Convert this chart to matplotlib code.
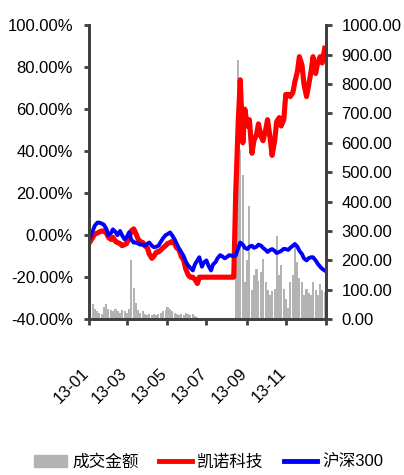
import matplotlib
matplotlib.use('Agg')
import matplotlib.pyplot as plt
import matplotlib.transforms as mtransforms
from matplotlib.patches import Patch
from matplotlib.lines import Line2D
import pandas as pd

plt.rcParams['font.family'] = ['Liberation Sans', 'Noto Sans CJK SC']

# trading days sampled on Mondays and Thursdays through 2013
days = pd.date_range('2013-01-01', '2013-12-31', freq='D')
dates = days[days.weekday.isin([0, 3])]

# 凯诺科技 cumulative return (%)
kaino = [-3, -1, 0.5, 1, 1.5, 2, 2, 1, -1, -2,
         -1, -3, -3.5, -4, -5, -4.5, -4, -1, 2, 3,
         1, -2, -3, -3.5, -5, -6, -9, -11, -10, -8,
         -8, -7, -6, -5, -4, -3.5, -3, -4, -6, -7,
         -10, -12, -16, -19, -20, -20, -21, -23,
         -20, -20, -20, -20, -20, -20, -20, -20,
         -20, -20, -20, -20, -20, -20, -20, -20,
         20, 55, 74, 44, 60, 52, 55, 39, 45, 48,
         53, 47, 45, 50, 55, 46, 38, 45, 54, 56,
         52, 55, 67, 67, 66, 68, 73, 78, 85, 81,
         72, 66, 71, 78, 85, 77, 82, 85, 82, 89]

# 沪深300 cumulative return (%)
hs300 = [-1, 2, 4.5, 6, 6, 5.5, 5, 3, 0, 1,
         2.8, 1.5, 0, 2, 0, -2, -1, 1.4, -2, -3.5,
         -3.5, -4, -4.5, -4.5, -5, -4, -3.5, -5, -5.7, -5.5,
         -5, -3, -1.5, 0, 0.5, 1.3, 0, -2, -4, -6.5,
         -8, -10, -12.5, -14.5, -15.5, -16.8, -14, -12, -10.5, -15,
         -13, -12, -14.5, -16.8, -14, -12.8, -11, -9.5, -10, -11,
         -10.5, -9.5, -9.7, -10, -9.7, -6, -3.5, -4.5, -6, -6.6,
         -5.5, -5, -6, -5.5, -4.5, -5, -6, -7, -8, -7,
         -6.6, -7.5, -8.5, -8, -7.5, -6.5, -6.6, -7, -6, -5,
         -4.2, -5.5, -7.4, -9, -11, -12, -11, -10.5, -10.5, -12,
         -13.5, -15, -16, -16.8]

# 成交金额 (right axis)
volume = [40, 50, 35, 28, 22, 18, 40, 50, 35, 30,
          28, 35, 28, 22, 30, 28, 22, 35, 200, 105,
          55, 30, 22, 28, 18, 14, 18, 14, 18, 14,
          18, 22, 28, 32, 40, 35, 28, 22, 18, 14,
          18, 14, 22, 18, 14, 18, 12, 8,
          0, 0, 0, 0, 0, 0, 0, 0,
          0, 0, 0, 0, 0, 0, 0, 0,
          195, 880, 576, 492, 128, 200, 385, 100, 150, 172,
          130, 160, 205, 128, 100, 82, 95, 104, 284, 150,
          183, 104, 70, 37, 128, 150, 262, 195, 140, 128,
          82, 104, 90, 82, 128, 100, 82, 121, 100, 94]

tick_dates = pd.to_datetime(['2013-01-01', '2013-03-01', '2013-05-01', '2013-07-01',
                             '2013-09-01', '2013-11-01', '2014-01-01'])
tick_labels = ['13-01', '13-03', '13-05', '13-07', '13-09', '13-11', '']

spine_col = '#404040'

fig = plt.figure(figsize=(4.04, 4.75), dpi=100)
ax1 = fig.add_axes([0.22, 0.328, 0.587, 0.619])
ax2 = ax1.twinx()

ax2.bar(dates, volume, width=3.2, color='#b3b3b3', linewidth=0)
ax1.plot(dates, kaino, color='#ff0000', lw=3.7, solid_joinstyle='round')
ax1.plot(dates, hs300, color='#0000ff', lw=2.8, solid_joinstyle='round')

# lines above bars
ax1.set_zorder(ax2.get_zorder() + 1)
ax1.patch.set_visible(False)

ax1.set_ylim(-40, 100)
ax1.set_yticks(range(-40, 101, 20))
ax1.set_yticklabels(['%.2f%%' % v for v in range(-40, 101, 20)])
ax2.set_ylim(0, 1000)
ax2.set_yticks(range(0, 1001, 100))
ax2.set_yticklabels(['%.2f' % v for v in range(0, 1001, 100)])

ax1.set_xlim(tick_dates[0], tick_dates[-1])
ax1.set_xticks(tick_dates)
ax1.set_xticklabels(tick_labels, rotation=45, ha='right', va='top')

for a in (ax1, ax2):
    for s in a.spines.values():
        s.set_color(spine_col)
        s.set_linewidth(2)
    a.spines['top'].set_visible(False)

ax1.tick_params(axis='y', direction='out', length=3.5, width=2, color=spine_col,
                labelsize=12, pad=8)
ax2.tick_params(axis='y', direction='out', length=4, width=2, color=spine_col,
                labelsize=12, pad=7)
ax1.tick_params(axis='x', direction='out', length=4, width=2, color=spine_col,
                labelsize=12, pad=29)

offset = mtransforms.ScaledTranslation(0.03, 0, fig.dpi_scale_trans)
for lab in ax1.get_xticklabels():
    lab.set_transform(lab.get_transform() + offset)

handles = [Patch(color='#b3b3b3'),
           Line2D([], [], color='#ff0000', lw=3.5),
           Line2D([], [], color='#0000ff', lw=3.5)]
labels = ['成交金额', '凯诺科技', '沪深300']
fig.legend(handles, labels, loc='center', bbox_to_anchor=(0.516, 13 / 475), ncol=3,
           frameon=False, fontsize=12, handlelength=2.0, handletextpad=0.3,
           columnspacing=1.2)

fig.savefig('out.png', dpi=100)
